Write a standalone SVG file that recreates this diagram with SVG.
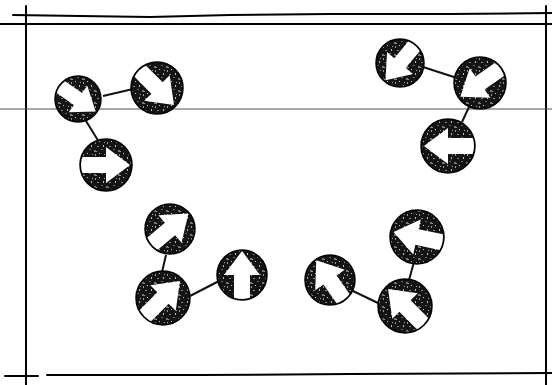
<svg xmlns="http://www.w3.org/2000/svg" xmlns:xlink="http://www.w3.org/1999/xlink" width="552" height="385" viewBox="0 0 552 385">
<style>
.frame{stroke:#000;stroke-width:2;fill:none;stroke-linecap:round}
.guide{stroke:#555;stroke-width:1.2;fill:none}
.edge{stroke:#111;stroke-width:2;fill:none}
.disc{fill:#141414;stroke:#000;stroke-width:1.5}
.speck{fill:url(#mottle)}
.arrow{fill:#fff}
</style>
<defs>
<pattern id="mottle" width="12" height="12" patternUnits="userSpaceOnUse">
<rect x="1" y="2" width="2" height="1" fill="#8a8a8a"/>
<rect x="7" y="1" width="1" height="2" fill="#bbb"/>
<rect x="10" y="6" width="2" height="2" fill="#777"/>
<rect x="3" y="9" width="1" height="1" fill="#ccc"/>
<rect x="5" y="5" width="2" height="1" fill="#666"/>
<rect x="11" y="10" width="1" height="2" fill="#999"/>
<rect x="8" y="10" width="1" height="1" fill="#aaa"/>
<rect x="0" y="7" width="1" height="1" fill="#999"/>
</pattern>
<polygon id="arr" points="-28,-8 0,-8 0,-18 24,0 0,18 0,8 -28,8"/>
<clipPath id="cA"><circle cx="78" cy="99" r="22"/></clipPath>
<clipPath id="cB"><circle cx="157" cy="88" r="25"/></clipPath>
<clipPath id="cC"><circle cx="106" cy="165" r="25"/></clipPath>
<clipPath id="cD"><circle cx="400" cy="63" r="23"/></clipPath>
<clipPath id="cE"><circle cx="480" cy="83" r="25"/></clipPath>
<clipPath id="cF"><circle cx="448" cy="146" r="26"/></clipPath>
<clipPath id="cG"><circle cx="170" cy="229" r="24"/></clipPath>
<clipPath id="cH"><circle cx="163" cy="298" r="26"/></clipPath>
<clipPath id="cI"><circle cx="242" cy="275" r="24"/></clipPath>
<clipPath id="cJ"><circle cx="330" cy="280" r="24"/></clipPath>
<clipPath id="cK"><circle cx="417" cy="237" r="26"/></clipPath>
<clipPath id="cL"><circle cx="405" cy="306" r="26"/></clipPath>
</defs>

<g id="frame">
<path class="frame" d="M13,15 L80,16 L150,17 L230,15 L330,14 L450,14 L552,13"/>
<line class="frame" x1="0" y1="24" x2="552" y2="24" stroke-width="1.5"/>
<line class="frame" x1="26" y1="6" x2="26" y2="385"/>
<line class="frame" x1="546" y1="6" x2="546" y2="385"/>
<path class="frame" d="M5,376 L38,376 M47,375 L200,375 L350,374 L552,373"/>
<line class="guide" x1="0" y1="109" x2="552" y2="109"/>
</g>

<g id="connectors">
<line class="edge" x1="103" y1="96" x2="133" y2="89"/>
<line class="edge" x1="86" y1="121" x2="99" y2="142"/>
<line class="edge" x1="423" y1="67" x2="457" y2="78"/>
<line class="edge" x1="469" y1="107" x2="462" y2="122"/>
<line class="edge" x1="166" y1="255" x2="162" y2="272"/>
<line class="edge" x1="190" y1="296" x2="219" y2="281"/>
<line class="edge" x1="353" y1="291" x2="380" y2="304"/>
<line class="edge" x1="414" y1="262" x2="409" y2="280"/>
</g>

<g id="nodeA"><circle class="disc" cx="78" cy="99" r="23"/><circle class="speck" cx="78" cy="99" r="22"/><g clip-path="url(#cA)"><use href="#arr" class="arrow" transform="translate(78,99) rotate(35) scale(0.9)"/></g></g>
<g id="nodeB"><circle class="disc" cx="157" cy="88" r="26"/><circle class="speck" cx="157" cy="88" r="25"/><g clip-path="url(#cB)"><use href="#arr" class="arrow" transform="translate(157,88) rotate(45)"/></g></g>
<g id="nodeC"><circle class="disc" cx="106" cy="165" r="26"/><circle class="speck" cx="106" cy="165" r="25"/><g clip-path="url(#cC)"><use href="#arr" class="arrow" transform="translate(106,165) rotate(0)"/></g></g>

<g id="nodeD"><circle class="disc" cx="400" cy="63" r="24"/><circle class="speck" cx="400" cy="63" r="23"/><g clip-path="url(#cD)"><use href="#arr" class="arrow" transform="translate(400,63) rotate(130) scale(0.94)"/></g></g>
<g id="nodeE"><circle class="disc" cx="480" cy="83" r="26"/><circle class="speck" cx="480" cy="83" r="25"/><g clip-path="url(#cE)"><use href="#arr" class="arrow" transform="translate(480,83) rotate(145)"/></g></g>
<g id="nodeF"><circle class="disc" cx="448" cy="146" r="27"/><circle class="speck" cx="448" cy="146" r="26"/><g clip-path="url(#cF)"><use href="#arr" class="arrow" transform="translate(448,146) rotate(180)"/></g></g>

<g id="nodeG"><circle class="disc" cx="170" cy="229" r="25"/><circle class="speck" cx="170" cy="229" r="24"/><g clip-path="url(#cG)"><use href="#arr" class="arrow" transform="translate(170,229) rotate(-40)"/></g></g>
<g id="nodeH"><circle class="disc" cx="163" cy="298" r="27"/><circle class="speck" cx="163" cy="298" r="26"/><g clip-path="url(#cH)"><use href="#arr" class="arrow" transform="translate(163,298) rotate(-45)"/></g></g>
<g id="nodeI"><circle class="disc" cx="242" cy="275" r="25"/><circle class="speck" cx="242" cy="275" r="24"/><g clip-path="url(#cI)"><use href="#arr" class="arrow" transform="translate(242,275) rotate(-90)"/></g></g>

<g id="nodeJ"><circle class="disc" cx="330" cy="280" r="25"/><circle class="speck" cx="330" cy="280" r="24"/><g clip-path="url(#cJ)"><use href="#arr" class="arrow" transform="translate(330,280) rotate(-125)"/></g></g>
<g id="nodeK"><circle class="disc" cx="417" cy="237" r="27"/><circle class="speck" cx="417" cy="237" r="26"/><g clip-path="url(#cK)"><use href="#arr" class="arrow" transform="translate(417,237) rotate(-168)"/></g></g>
<g id="nodeL"><circle class="disc" cx="405" cy="306" r="27"/><circle class="speck" cx="405" cy="306" r="26"/><g clip-path="url(#cL)"><use href="#arr" class="arrow" transform="translate(405,306) rotate(-135)"/></g></g>
</svg>
